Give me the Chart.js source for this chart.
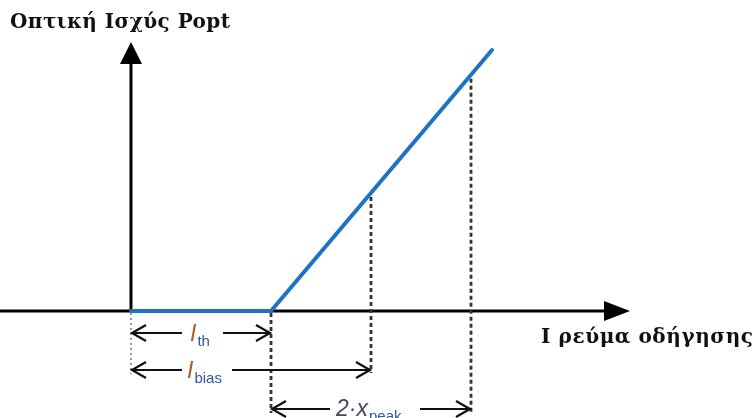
<!DOCTYPE html>
<html>
<head>
<meta charset="utf-8">
<script src="https://cdn.jsdelivr.net/npm/chart.js@4.4.1/dist/chart.umd.min.js"></script>
<style>
  html, body { margin: 0; padding: 0; background: #ffffff; }
  #wrap { width: 755px; height: 418px; }
</style>
</head>
<body>
<div id="wrap"><canvas id="liChart" width="755" height="418"></canvas></div>
<script>
// L-I characteristic of a laser diode (arbitrary units)
const currentPts = [0, 1.4, 3.61];
const powerPts = [0, 0, 2.61];

const thresholdI = 1.4;   // I_th
const peakSwing = 1.0;    // x_peak
const biasI = thresholdI + peakSwing; // I_bias

const yTitle = 'Οπτική Ισχύς Popt';
const xTitle = 'Ι ρεύμα οδήγησης';

// power on the sloped part of the curve
function powerAt(i) {
    const n = currentPts.length;
    const k = (powerPts[n - 1] - powerPts[n - 2]) / (currentPts[n - 1] - currentPts[n - 2]);
    return Math.max(0, (i - thresholdI) * k);
}

function openArrow(ctx, x, y, dir) {
    ctx.beginPath();
    ctx.moveTo(x - dir * 14, y - 8);
    ctx.lineTo(x, y);
    ctx.lineTo(x - dir * 14, y + 8);
    ctx.stroke();
}

// dimension line with a gap for its label
function dimLine(ctx, x1, x2, y, gapL, gapR) {
    ctx.save();
    ctx.strokeStyle = '#111';
    ctx.lineWidth = 2.2;
    ctx.beginPath();
    ctx.moveTo(x1 + 1, y);
    ctx.lineTo(gapL, y);
    ctx.moveTo(gapR, y);
    ctx.lineTo(x2 - 1, y);
    ctx.stroke();
    openArrow(ctx, x1 + 1, y, -1);
    openArrow(ctx, x2 - 1, y, 1);
    ctx.restore();
}

function subLabel(ctx, main, sub, x, y, mainColor) {
    ctx.save();
    ctx.textBaseline = 'alphabetic';
    ctx.font = 'italic 23px "Liberation Sans", Arial, sans-serif';
    ctx.fillStyle = mainColor;
    ctx.fillText(main, x, y);
    const w = ctx.measureText(main).width;
    ctx.font = '15px "Liberation Sans", Arial, sans-serif';
    ctx.fillStyle = '#2f5a98';
    ctx.fillText(sub, x + w + 1, y + 5);
    ctx.restore();
}

// draw text stretched to a given width via letter spacing
function spacedText(ctx, text, x, y, width) {
    ctx.letterSpacing = '0px';
    const w = ctx.measureText(text).width;
    const sp = Math.max(0, (width - w) / (text.length - 1));
    ctx.letterSpacing = sp + 'px';
    ctx.fillText(text, x, y);
}

const diagramPlugin = {
    id: 'liDiagram',
    beforeDatasetsDraw: (chart) => {
        const { ctx } = chart;
        const xs = chart.scales.x, ys = chart.scales.y;
        const px = v => xs.getPixelForValue(v);
        const py = v => ys.getPixelForValue(v);
        const x0 = px(0), y0 = py(0);

        ctx.save();
        // axes
        ctx.strokeStyle = '#000';
        ctx.fillStyle = '#000';
        ctx.lineWidth = 3;
        ctx.beginPath();
        ctx.moveTo(px(-1.31), y0);
        ctx.lineTo(px(4.76), y0);
        ctx.moveTo(x0, y0);
        ctx.lineTo(x0, py(2.5));
        ctx.stroke();
        // arrow heads
        ctx.beginPath();
        ctx.moveTo(px(4.99), y0);
        ctx.lineTo(px(4.73), y0 - 10);
        ctx.lineTo(px(4.73), y0 + 10);
        ctx.closePath();
        ctx.fill();
        ctx.beginPath();
        ctx.moveTo(x0, py(2.69));
        ctx.lineTo(x0 - 11, py(2.47));
        ctx.lineTo(x0 + 11, py(2.47));
        ctx.closePath();
        ctx.fill();

        // guide lines
        ctx.strokeStyle = '#555';
        ctx.lineWidth = 1.2;
        ctx.setLineDash([2, 3]);
        ctx.beginPath();
        ctx.moveTo(x0, y0 + 2);
        ctx.lineTo(x0, py(-0.63));
        ctx.stroke();

        ctx.strokeStyle = '#333';
        ctx.lineWidth = 2.8;
        ctx.setLineDash([4, 3]);
        ctx.beginPath();
        ctx.moveTo(px(thresholdI), y0 + 2);
        ctx.lineTo(px(thresholdI), py(-1.02));
        ctx.moveTo(px(biasI), py(powerAt(biasI)) + 4);
        ctx.lineTo(px(biasI), py(-0.62));
        const iMax = thresholdI + 2 * peakSwing;
        ctx.moveTo(px(iMax), py(powerAt(iMax)) + 4);
        ctx.lineTo(px(iMax), py(-1.02));
        ctx.stroke();
        ctx.setLineDash([]);
        ctx.restore();

        // dimension arrows
        const rTh = py(-0.22), rBias = py(-0.59), rPk = py(-0.98);
        dimLine(ctx, x0, px(thresholdI), rTh, x0 + 51, x0 + 92);
        dimLine(ctx, x0, px(biasI), rBias, x0 + 51, x0 + 101);
        dimLine(ctx, px(thresholdI), px(iMax), rPk, px(thresholdI) + 59, px(thresholdI) + 149);

        subLabel(ctx, 'I', 'th', x0 + 59, rTh + 8, '#a8602c');
        subLabel(ctx, 'I', 'bias', x0 + 56, rBias + 8, '#a8602c');
        ctx.save();
        ctx.font = 'italic 23px "Liberation Sans", Arial, sans-serif';
        ctx.fillStyle = '#4b4660';
        const bx = px(thresholdI) + 65;
        ctx.fillText('2·x', bx, rPk + 7);
        const w = ctx.measureText('2·x').width;
        ctx.font = '15px "Liberation Sans", Arial, sans-serif';
        ctx.fillStyle = '#2f5a98';
        ctx.fillText('peak', bx + w + 1, rPk + 12);
        ctx.restore();

        // axis titles
        ctx.save();
        ctx.fillStyle = '#111';
        ctx.font = 'bold 20px "DejaVu Serif", "Liberation Serif", serif';
        ctx.textBaseline = 'alphabetic';
        spacedText(ctx, yTitle, 10, 28, 220);
        spacedText(ctx, xTitle, 541, 343, 212);
        ctx.restore();
    }
};

const ctx = document.getElementById('liChart').getContext('2d');
new Chart(ctx, {
    type: 'scatter',
    data: {
        datasets: [{
            data: currentPts.map((c, i) => ({ x: c, y: powerPts[i] })),
            showLine: true,
            borderColor: '#1f72c4',
            borderWidth: 4,
            pointRadius: 0,
            borderCapStyle: 'round',
            borderJoinStyle: 'miter',
            clip: false
        }]
    },
    options: {
        responsive: false,
        animation: false,
        layout: { padding: 0 },
        plugins: { legend: { display: false }, tooltip: { enabled: false } },
        scales: {
            x: { type: 'linear', min: -1.31, max: 6.24, display: false },
            y: { type: 'linear', min: -1.07, max: 3.11, display: false }
        }
    },
    plugins: [diagramPlugin]
});
</script>
</body>
</html>
